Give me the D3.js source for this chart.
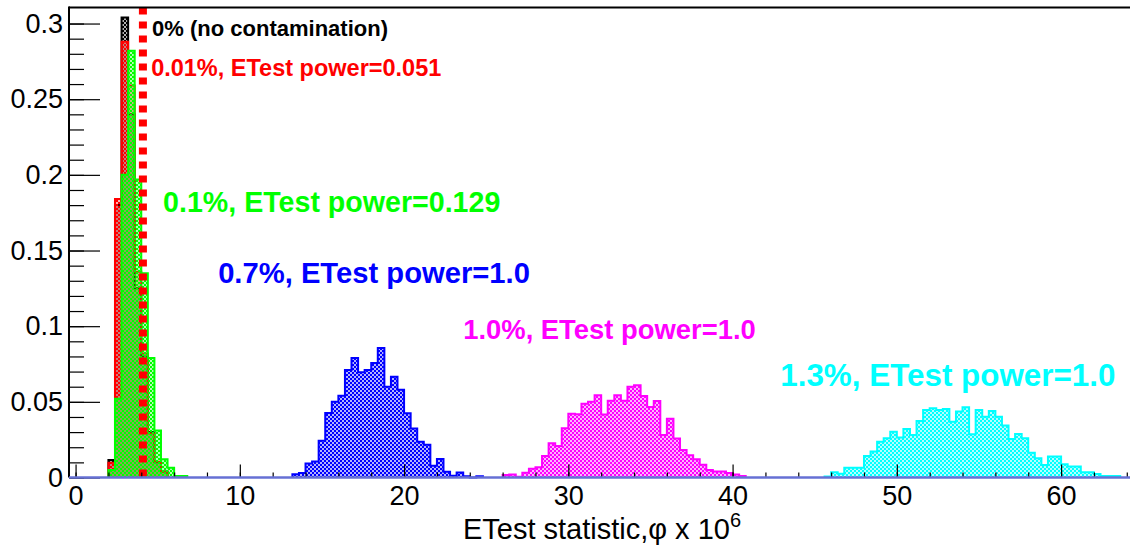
<!DOCTYPE html>
<html>
<head>
<meta charset="utf-8">
<script src="https://cdn.jsdelivr.net/npm/d3@7"></script>
<style>
  body { margin: 0; background: #fff; }
  svg { display: block; font-family: "Liberation Sans", Arial, sans-serif; }
</style>
</head>
<body>
<div id="chart"></div>
<script>
// histogram bin width (x units) and per-series contents
const binWidth = 0.4;

const blackStart = 2.0;
const blackValues = [0.0116, 0.18, 0.304, 0.24, 0.125, 0.08, 0.03, 0.01, 0.004];

const redStart = 2.0;
const redValues = [0.0098, 0.184, 0.288, 0.259, 0.136, 0.082, 0.029, 0.0104, 0.0038];

const greenStart = 2.0;
const greenValues = [0.005, 0.052, 0.2, 0.282, 0.197, 0.135, 0.079, 0.031, 0.012, 0.0065, 0.001, 0.001];

const blueStart = 13.2;
const blueValues = [0.0022, 0.003, 0.0093, 0.0106, 0.0243, 0.0426, 0.05, 0.054, 0.071, 0.079,
  0.0695, 0.071, 0.0756, 0.0856, 0.06, 0.0666, 0.058, 0.0425, 0.0324, 0.0236,
  0.0216, 0.0077, 0.0122, 0.0038, 0.0011, 0.0033, 0.0008, 0, 0.0008];

const magentaStart = 26.0;
const magentaValues = [0.0017, 0.002, 0.0005, 0.0032, 0.0058, 0.0067, 0.0142, 0.0226, 0.0208, 0.0325,
  0.0422, 0.0418, 0.0488, 0.0501, 0.0543, 0.0417, 0.0508, 0.0543, 0.0508, 0.06,
  0.0609, 0.0539, 0.0466, 0.0506, 0.0281, 0.0389, 0.0257, 0.0182, 0.0147, 0.012,
  0.0085, 0.005, 0.0039, 0.0039, 0.003, 0.002, 0.001];

const cyanStart = 45.6;
const cyanValues = [0.0006, 0.0034, 0.0025, 0.0065, 0.0065, 0.0065, 0.0142, 0.0171, 0.0237, 0.0259,
  0.0303, 0.0265, 0.032, 0.0281, 0.0373, 0.0446, 0.0457, 0.0446, 0.0452, 0.0369,
  0.0436, 0.0464, 0.0285, 0.0446, 0.0402, 0.044, 0.0402, 0.0343, 0.0254, 0.0287,
  0.0259, 0.0164, 0.0127, 0.0083, 0.0138, 0.0138, 0.0087, 0.0072, 0.0072, 0.0034,
  0.0034, 0.0023, 0.001, 0.001, 0.001];

const labelTexts = [
  '0% (no contamination)',
  '0.01%, ETest power=0.051',
  '0.1%, ETest power=0.129',
  '0.7%, ETest power=1.0',
  '1.0%, ETest power=1.0',
  '1.3%, ETest power=1.0'
];

const criticalValue = 4.1;

const xTicks = [0, 10, 20, 30, 40, 50, 60];
const yTicks = [0, 0.05, 0.1, 0.15, 0.2, 0.25, 0.3];
const xTitle = 'ETest statistic,\u03c6 x 10';
const xTitleSup = '6';

(function() {
  'use strict';

  const width = 1130, height = 548;
  const left = 69, right = 1135, top = 7.5, bottom = 477.5;

  const colors = ['#000000', '#ff0000', '#00ff00', '#0000ff', '#ff00ff', '#00ffff'];
  const series = [
    { id: 'black', start: blackStart, values: blackValues },
    { id: 'red', start: redStart, values: redValues },
    { id: 'green', start: greenStart, values: greenValues },
    { id: 'blue', start: blueStart, values: blueValues },
    { id: 'magenta', start: magentaStart, values: magentaValues },
    { id: 'cyan', start: cyanStart, values: cyanValues }
  ];
  series.forEach((s, i) => { s.color = colors[i]; s.label = labelTexts[i]; });

  const x = d3.scaleLinear().domain([-0.4, 64.5]).range([left, right]);
  const y = d3.scaleLinear().domain([0, 0.3106]).range([bottom, top]);

  const svg = d3.select('#chart').append('svg')
    .attr('width', width)
    .attr('height', height);

  svg.append('rect').attr('width', width).attr('height', height).attr('fill', '#fff');

  // checker fill patterns, one per colour
  const defs = svg.append('defs');
  series.forEach(s => {
    const p = defs.append('pattern')
      .attr('id', 'fill-' + s.id)
      .attr('patternUnits', 'userSpaceOnUse')
      .attr('width', 4).attr('height', 4);
    p.append('rect').attr('width', 4).attr('height', 4)
      .attr('fill', s.color).attr('opacity', 0.3);
    p.append('rect').attr('width', 2).attr('height', 2).attr('fill', s.color);
    p.append('rect').attr('x', 2).attr('y', 2).attr('width', 2).attr('height', 2).attr('fill', s.color);
  });

  // step outline of a histogram
  const stepPoints = s => {
    const pts = [[s.start, 0]];
    s.values.forEach((v, i) => {
      const x0 = s.start + i * binWidth;
      pts.push([x0, v], [x0 + binWidth, v]);
    });
    pts.push([s.start + s.values.length * binWidth, 0]);
    return pts;
  };

  const line = d3.line().x(d => x(d[0])).y(d => y(d[1]));

  const hists = svg.append('g').attr('id', 'hists');
  series.forEach(s => {
    const pts = stepPoints(s);
    hists.append('path')
      .attr('d', line(pts) + 'Z')
      .attr('fill', `url(#fill-${s.id})`)
      .attr('stroke', 'none');
    hists.append('path')
      .attr('d', line(pts))
      .attr('fill', 'none')
      .attr('stroke', s.color)
      .attr('stroke-width', 2)
      .attr('stroke-linejoin', 'miter');
  });

  // critical value line
  svg.append('line')
    .attr('x1', x(criticalValue)).attr('x2', x(criticalValue))
    .attr('y1', top).attr('y2', bottom)
    .attr('stroke', '#ff0000')
    .attr('stroke-width', 8)
    .attr('stroke-dasharray', '7,7');

  // axes ====================================================
  const yMajor = d3.axisLeft(y).tickValues(yTicks).tickSize(-31).tickPadding(6)
    .tickFormat(d => String(+d.toFixed(2)));
  const yMinor = d3.axisLeft(y).tickValues(d3.range(0, 31).map(i => i / 100)).tickSize(-15).tickFormat('');
  const xMajor = d3.axisBottom(x).tickValues(xTicks).tickSize(-13).tickPadding(8.5).tickFormat(d3.format('d'));
  const xMinor = d3.axisBottom(x).tickValues(d3.range(0, 33).map(i => i * 2)).tickSize(-5).tickFormat('');

  const gy = svg.append('g').attr('transform', `translate(${left},0)`);
  gy.append('g').call(yMinor);
  gy.append('g').call(yMajor);
  const gx = svg.append('g').attr('transform', `translate(0,${bottom})`);
  gx.append('g').call(xMinor);
  gx.append('g').call(xMajor);

  svg.selectAll('.domain').remove();
  svg.selectAll('.tick line').attr('stroke', '#000').attr('stroke-width', 1.2);
  svg.selectAll('.tick text')
    .attr('fill', '#000')
    .style('font-size', '27px')
    .style('font-family', '"Liberation Sans", Arial, sans-serif');

  // frame
  svg.append('line').attr('x1', left).attr('x2', left).attr('y1', top - 1).attr('y2', bottom)
    .attr('stroke', '#000').attr('stroke-width', 2);
  svg.append('line').attr('x1', left).attr('x2', right).attr('y1', top).attr('y2', top)
    .attr('stroke', '#000').attr('stroke-width', 2);
  svg.append('line').attr('x1', left).attr('x2', right).attr('y1', bottom).attr('y2', bottom)
    .attr('stroke', '#6670d4').attr('stroke-width', 2.5);

  // axis title
  const title = svg.append('text')
    .attr('x', (left + right) / 2)
    .attr('y', 539)
    .attr('text-anchor', 'middle')
    .style('font-size', '29px')
    .attr('fill', '#000')
    .text(xTitle);
  title.append('tspan')
    .attr('dy', -12)
    .style('font-size', '20px')
    .text(xTitleSup);

  // annotations, anchored in data coordinates
  const labelPos = [
    { x: 4.66, y: 0.2918, size: 22 },
    { x: 4.6, y: 0.2654, size: 23.5 },
    { x: 5.33, y: 0.1755, size: 28.6 },
    { x: 8.68, y: 0.1286, size: 29.2 },
    { x: 23.6, y: 0.0915, size: 27.4 },
    { x: 42.9, y: 0.0605, size: 31.4 }
  ];
  svg.append('g').selectAll('text').data(series).enter().append('text')
    .attr('x', (d, i) => x(labelPos[i].x))
    .attr('y', (d, i) => y(labelPos[i].y))
    .attr('fill', d => d.color)
    .style('font-weight', 'bold')
    .style('font-size', (d, i) => labelPos[i].size + 'px')
    .text(d => d.label);
}());
</script>
</body>
</html>
